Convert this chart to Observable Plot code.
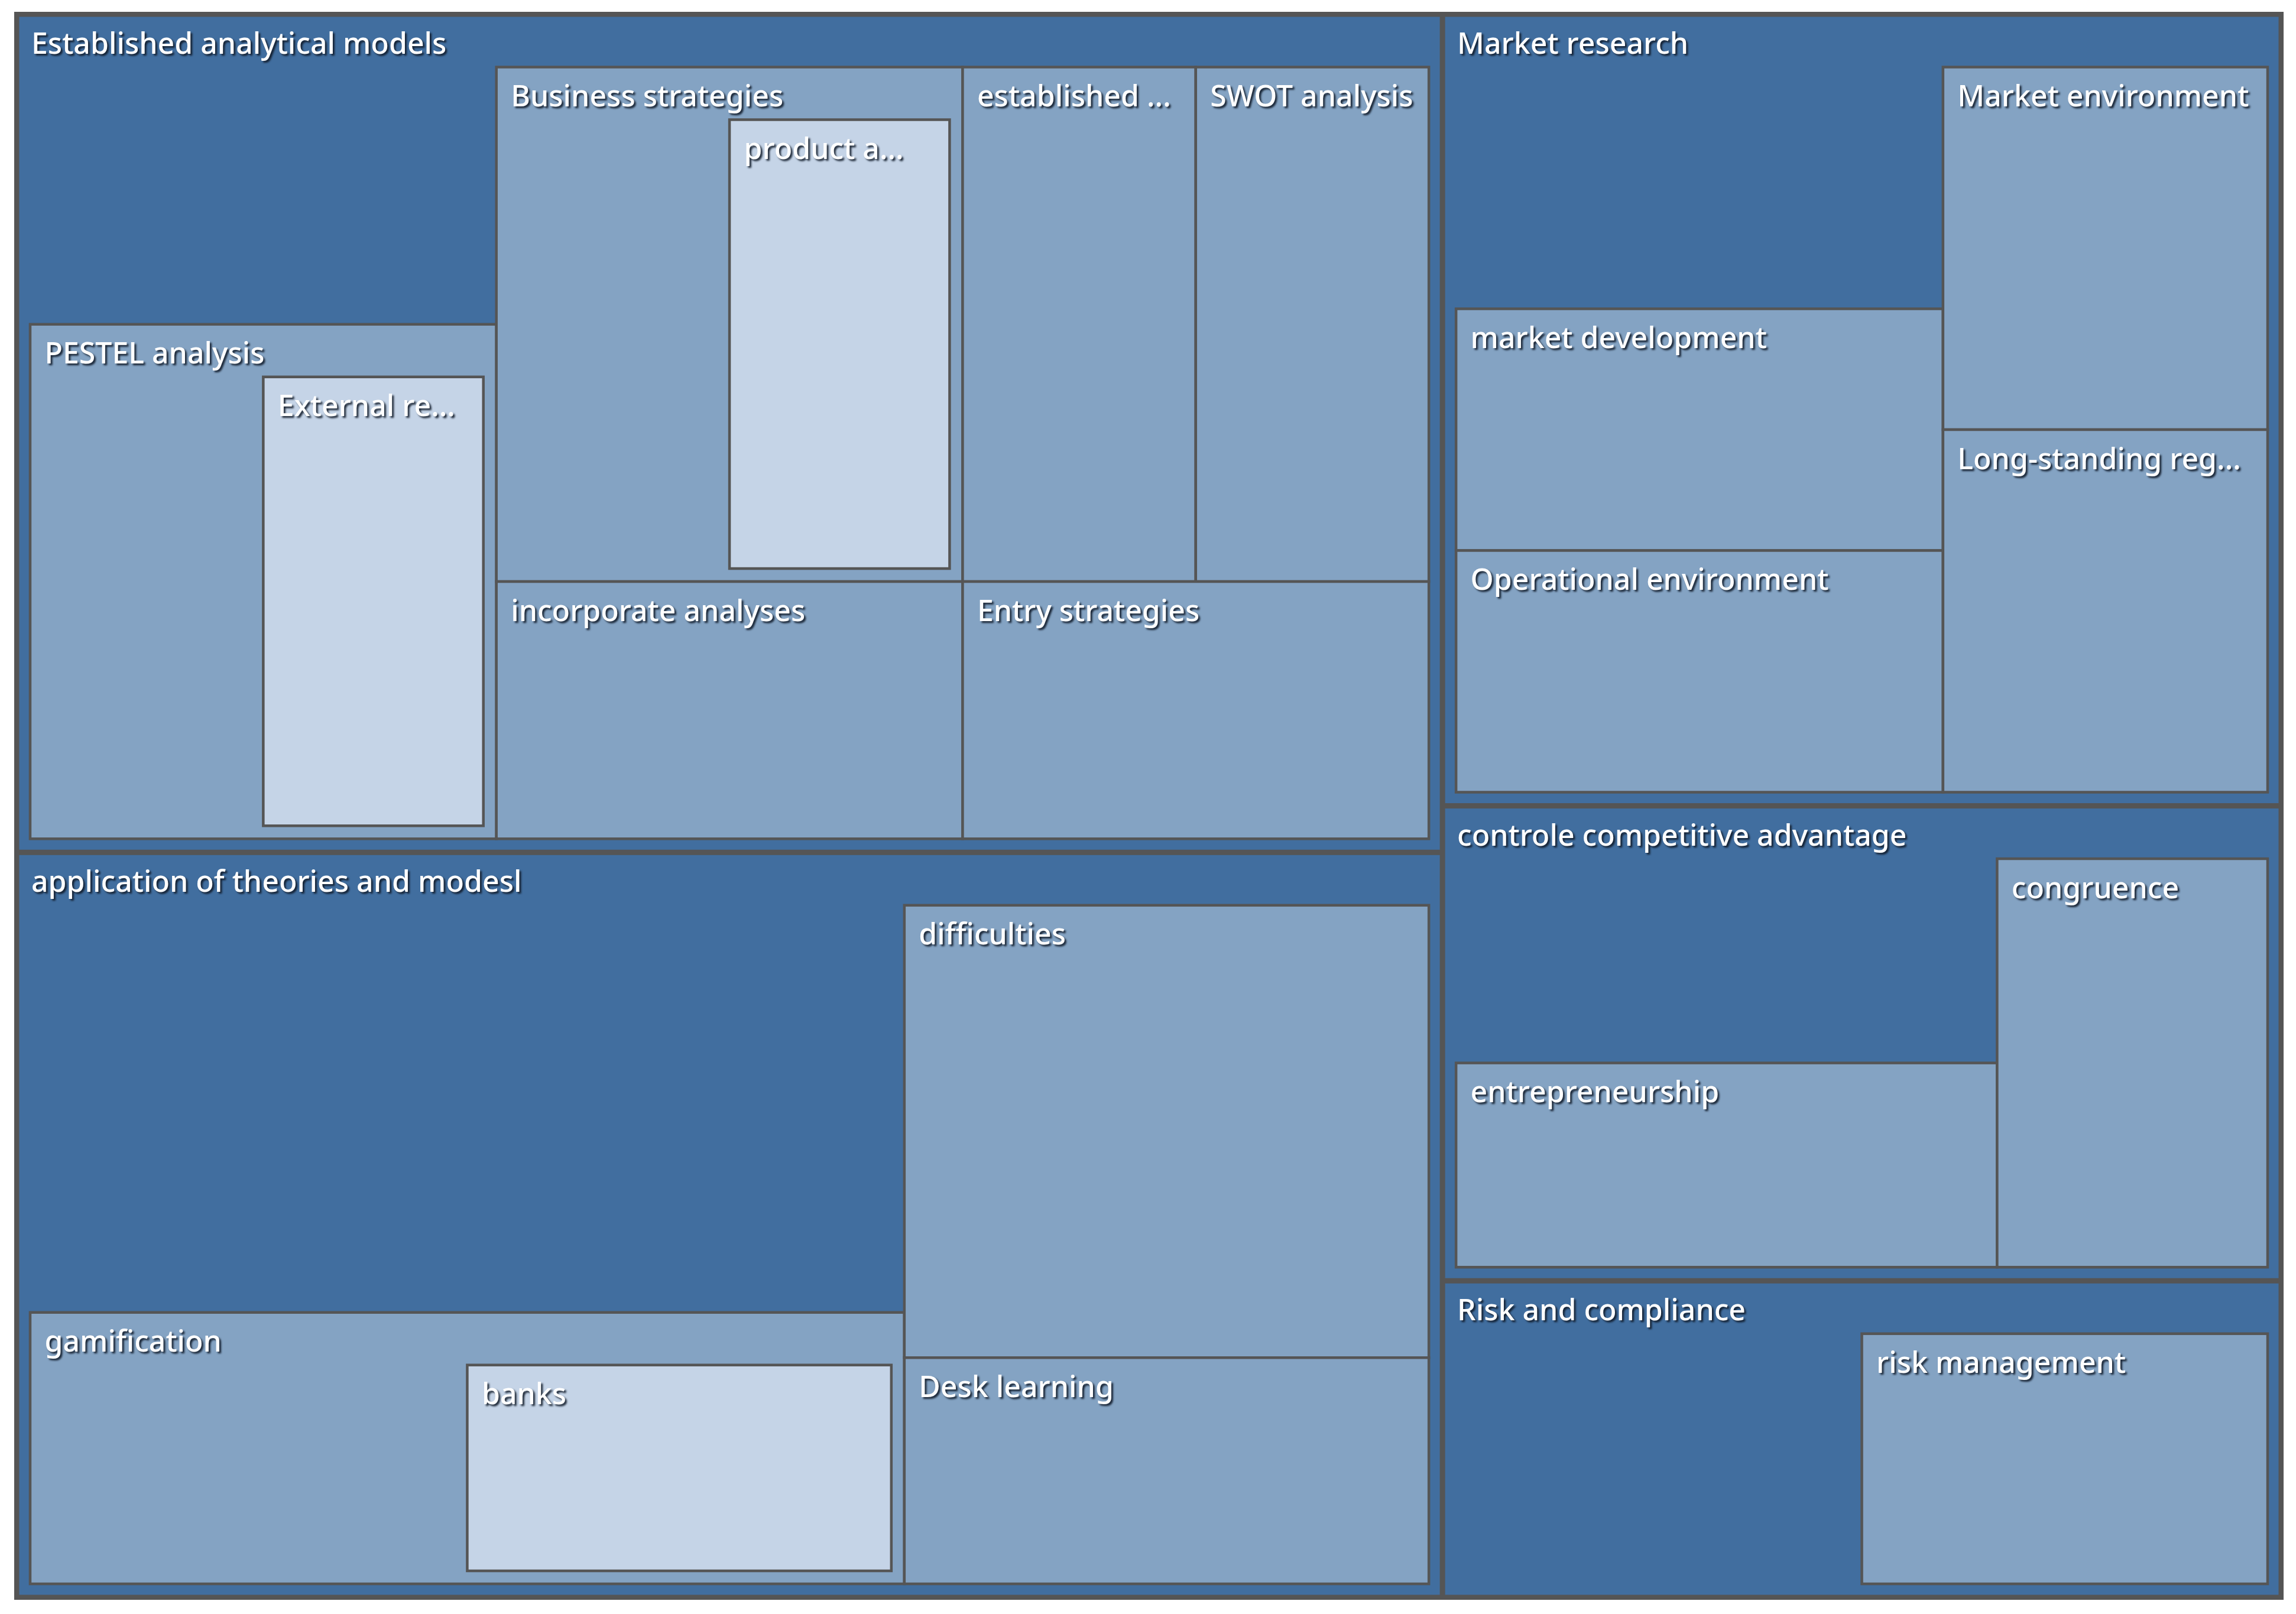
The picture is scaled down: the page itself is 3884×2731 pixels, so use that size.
<!DOCTYPE html>
<html>
<head>
<meta charset="utf-8">
<script src="https://cdn.jsdelivr.net/npm/d3@7"></script>
<script src="https://cdn.jsdelivr.net/npm/@observablehq/plot@0.6"></script>
<style>
  html, body { margin: 0; padding: 0; background: #ffffff; }
  #chart svg { display: block; }
</style>
</head>
<body>
<div id="chart"></div>
<script>
// ---- Data: code tree (name, parent, own coded-segment count) ----
const codeNames = [
  "Established analytical models",
  "PESTEL analysis",
  "External re...",
  "Business strategies",
  "product a...",
  "incorporate analyses",
  "established ...",
  "SWOT analysis",
  "Entry strategies",
  "application of theories and modesl",
  "gamification",
  "banks",
  "difficulties",
  "Desk learning",
  "Market research",
  "market development",
  "Operational environment",
  "Market environment",
  "Long-standing reg...",
  "controle competitive advantage",
  "entrepreneurship",
  "congruence",
  "Risk and compliance",
  "risk management"
];
const codeParents = [
  "",
  "Established analytical models",
  "PESTEL analysis",
  "Established analytical models",
  "Business strategies",
  "Established analytical models",
  "Established analytical models",
  "Established analytical models",
  "Established analytical models",
  "",
  "application of theories and modesl",
  "gamification",
  "application of theories and modesl",
  "application of theories and modesl",
  "",
  "Market research",
  "Market research",
  "Market research",
  "Market research",
  "",
  "controle competitive advantage",
  "controle competitive advantage",
  "",
  "Risk and compliance"
];
const codeCounts = [1, 1, 1, 1, 1, 1, 1, 1, 1, 3, 1, 1, 2, 1, 1, 1, 1, 1, 1, 1, 1, 1, 1, 1];

// ---- Colours by depth ----
const depthFill = ["#555555", "#416E9F", "#84A3C3", "#C5D4E7"];
const borderColor = "#555555";

// ---- Build hierarchy: a node's own count becomes a first, invisible child ----
const parentSet = new Set(codeParents.filter(p => p));
const rows = [{id: "root", parent: null, v: 0}];
codeNames.forEach((name, i) => {
  const isParent = parentSet.has(name);
  rows.push({id: name, parent: codeParents[i] || "root", v: isParent ? 0 : codeCounts[i]});
  if (isParent && codeCounts[i] > 0) {
    rows.push({id: name + "\u0000own", parent: name, v: codeCounts[i], own: true});
  }
});

const W = 3839, H = 2687;
const root = d3.stratify().id(d => d.id).parentId(d => d.parent)(rows).sum(d => d.v);
const padTop = [8.5, 85, 89, 89];
const padSide = [8.5, 18.5, 22, 22];
d3.treemap()
  .tile(d3.treemapSquarify)
  .size([W, H])
  .round(false)
  .paddingInner(n => n.depth === 0 ? 9 : 0)
  .paddingTop(n => padTop[n.depth])
  .paddingLeft(n => padSide[n.depth])
  .paddingRight(n => padSide[n.depth])
  .paddingBottom(n => padSide[n.depth])(root);

const nodes = root.descendants().filter(d => !d.data.own);
const byDepth = k => nodes.filter(d => d.depth === k);

const font = "'Noto Sans', 'Open Sans', sans-serif";
const rectOpts = {x1: "x0", x2: "x1", y1: "y0", y2: "y1"};

const chart = Plot.plot({
  width: 3884,
  height: 2731,
  marginLeft: 24, marginTop: 20, marginRight: 21, marginBottom: 24,
  x: {domain: [0, W], axis: null},
  y: {domain: [0, H], reverse: true, axis: null},
  style: {background: "#ffffff"},
  marks: [
    Plot.rect(byDepth(0), {...rectOpts, fill: depthFill[0]}),
    Plot.rect(byDepth(1), {...rectOpts, fill: depthFill[1]}),
    Plot.rect(byDepth(2), {...rectOpts, fill: depthFill[2], stroke: borderColor, strokeWidth: 4.5}),
    Plot.rect(byDepth(3), {...rectOpts, fill: depthFill[3], stroke: borderColor, strokeWidth: 4.5}),
    Plot.text(byDepth(1), {x: "x0", y: "y0", text: d => d.id, dx: 20, dy: 62,
      textAnchor: "start", lineAnchor: "bottom", fill: "#ffffff", fontSize: 50, fontWeight: 500, fontFamily: font}),
    Plot.text(nodes.filter(d => d.depth >= 2), {x: "x0", y: "y0", text: d => d.id, dx: 24, dy: 66,
      textAnchor: "start", lineAnchor: "bottom", fill: "#ffffff", fontSize: 50, fontWeight: 500, fontFamily: font})
  ]
});

d3.select(chart).selectAll("text").style("filter", "drop-shadow(3px 3px 1.5px rgba(15,25,40,0.9))");
document.getElementById("chart").appendChild(chart);
</script>
</body>
</html>
